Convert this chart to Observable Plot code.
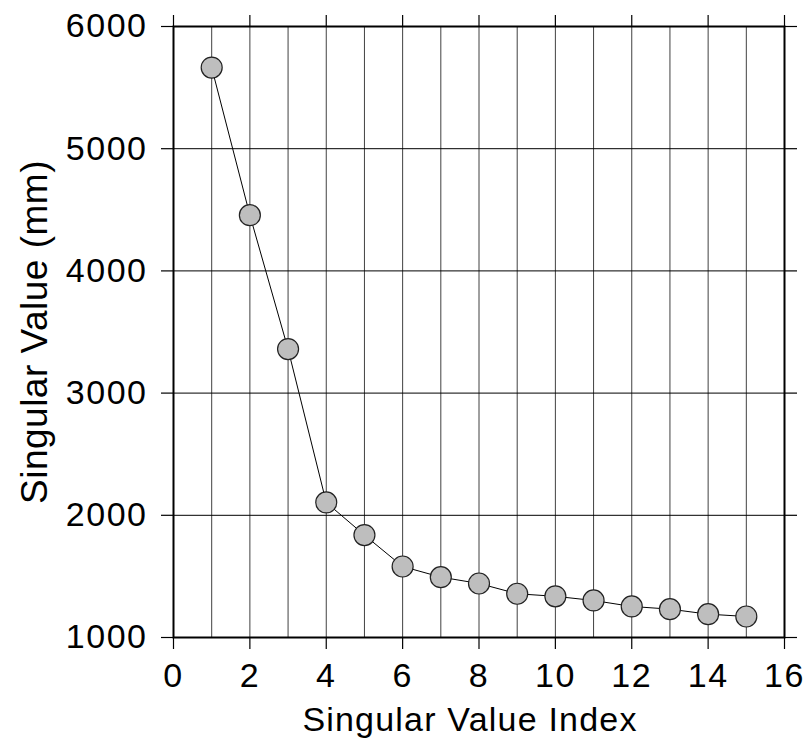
<!DOCTYPE html>
<html>
<head>
<meta charset="utf-8">
<script src="https://cdn.jsdelivr.net/npm/d3@7"></script>
<script src="https://cdn.jsdelivr.net/npm/@observablehq/plot@0.6"></script>
<style>
  html, body { margin: 0; padding: 0; background: white; }
  #chart svg { display: block; }
  [aria-label="x-axis tick label"] text, [aria-label="y-axis tick label"] text { letter-spacing: 1.5px; }
  [aria-label="y-axis label"] text { letter-spacing: 0.5px; font-size: 37px; }
  [aria-label="text"] text { letter-spacing: 1.2px; }
</style>
</head>
<body>
<div id="chart"></div>
<script>
const index = [1, 2, 3, 4, 5, 6, 7, 8, 9, 10, 11, 12, 13, 14, 15];
const singularValue = [5664, 4456, 3360, 2105, 1838, 1581, 1494, 1442, 1358, 1337, 1303, 1254, 1232, 1191, 1172];
const xTicks = [0, 2, 4, 6, 8, 10, 12, 14, 16];
const yTicks = [1000, 2000, 3000, 4000, 5000, 6000];
const xGrid = [1, 2, 3, 4, 5, 6, 7, 8, 9, 10, 11, 12, 13, 14, 15];
const yGrid = [2000, 3000, 4000, 5000];
const xLabel = ["Singular Value Index"];
const yLabel = "Singular Value (mm)";

const data = index.map((i, k) => ({index: i, value: singularValue[k]}));

const chart = Plot.plot({
  width: 812,
  height: 744,
  marginLeft: 173,
  marginRight: 28,
  marginTop: 26,
  marginBottom: 107,
  style: {fontFamily: "'Liberation Sans', Arial, Helvetica, sans-serif", background: "white", color: "black"},
  x: {domain: [0, 16]},
  y: {domain: [1000, 6000]},
  marks: [
    Plot.gridX(xGrid, {stroke: "black", strokeOpacity: 0.75, strokeWidth: 1}),
    Plot.gridY(yGrid, {stroke: "black", strokeOpacity: 1, strokeWidth: 1}),
    Plot.axisX(xTicks, {anchor: "bottom", tickSize: 12, tickPadding: 13, fontSize: 34, tickFormat: d => String(d),
      label: null, strokeWidth: 1.2}),
    Plot.axisX(xTicks, {anchor: "top", tickSize: 12, tickFormat: () => "", label: null, strokeWidth: 1.2}),
    Plot.axisY(yTicks, {anchor: "left", tickSize: 12, tickPadding: 14, fontSize: 34, tickFormat: d => String(d),
      label: yLabel, labelArrow: "none", labelAnchor: "center", labelOffset: 153, strokeWidth: 1.2}),
    Plot.axisY(yTicks, {anchor: "right", tickSize: 12, tickFormat: () => "", label: null, strokeWidth: 1.2}),
    Plot.text(xLabel, {frameAnchor: "bottom", text: d => d, dx: -9, dy: 93, lineAnchor: "bottom", fontSize: 34, fill: "black"}),
    Plot.frame({stroke: "black", strokeWidth: 2}),
    Plot.line(data, {x: "index", y: "value", stroke: "black", strokeWidth: 1}),
    Plot.dot(data, {x: "index", y: "value", r: 10.5, fill: "#bebebe", stroke: "#222", strokeWidth: 1.2})
  ]
});
document.getElementById("chart").append(chart);
</script>
</body>
</html>
